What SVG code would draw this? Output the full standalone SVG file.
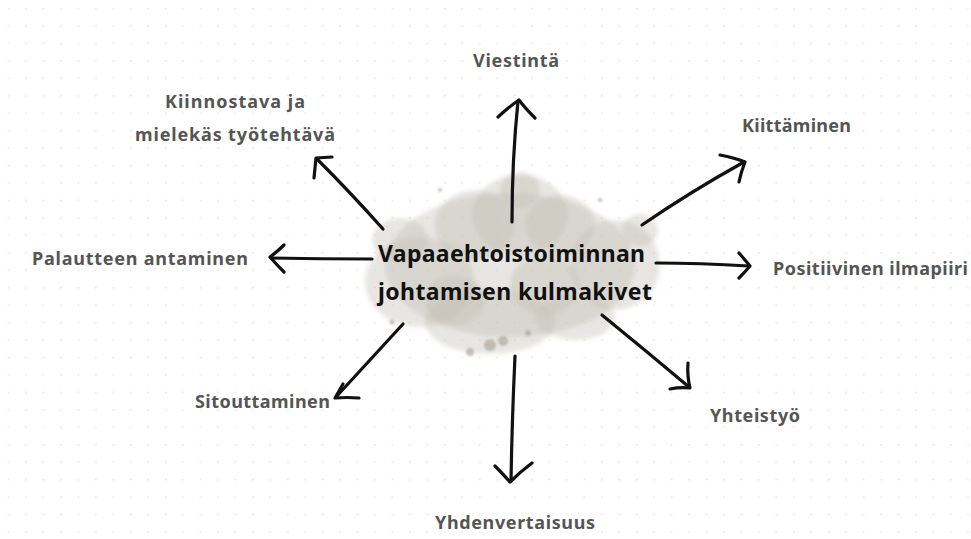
<svg xmlns="http://www.w3.org/2000/svg" width="971" height="539" viewBox="0 0 971 539">
<defs>
<pattern id="dots" x="0" y="0" width="17.45" height="17.45" patternUnits="userSpaceOnUse">
<circle cx="8.5" cy="8.5" r="1" fill="#e9e9e9"/>
</pattern>
<filter id="blur" x="-20%" y="-20%" width="140%" height="140%">
<feGaussianBlur stdDeviation="2"/>
</filter>
<filter id="blur2" x="-50%" y="-50%" width="200%" height="200%">
<feGaussianBlur stdDeviation="1"/>
</filter>
<style>
.lbl{font-family:"Noto Sans","Lato",sans-serif;font-weight:bold;font-size:18px;fill:#555555;}
.title{font-family:"Noto Sans","Lato",sans-serif;font-weight:bold;font-size:23px;fill:#111111;}
.arr{fill:none;stroke:#111111;stroke-width:3.2;stroke-linecap:round;stroke-linejoin:round;}
.blob{fill:#c2beb3;opacity:0.38;}
</style>
</defs>
<rect width="971" height="539" fill="#ffffff"/>
<rect width="971" height="539" fill="url(#dots)"/>

<g id="center">
<g filter="url(#blur)">
<ellipse class="blob" cx="510" cy="265" rx="125" ry="72"/>
<ellipse class="blob" cx="520" cy="215" rx="48" ry="40"/>
<ellipse class="blob" cx="475" cy="225" rx="40" ry="35"/>
<ellipse class="blob" cx="560" cy="225" rx="35" ry="30"/>
<ellipse class="blob" cx="420" cy="282" rx="55" ry="45"/>
<ellipse class="blob" cx="615" cy="265" rx="45" ry="45"/>
<ellipse class="blob" cx="490" cy="322" rx="65" ry="32"/>
<ellipse class="blob" cx="575" cy="318" rx="40" ry="22"/>
<ellipse class="blob" cx="400" cy="240" rx="28" ry="22"/>
<ellipse class="blob" cx="640" cy="230" rx="18" ry="16"/>
<ellipse class="blob" cx="455" cy="300" rx="30" ry="25"/>
<ellipse class="blob" cx="545" cy="285" rx="35" ry="30"/>
<ellipse class="blob" cx="520" cy="190" rx="20" ry="18"/>
</g>
<g filter="url(#blur2)" fill="#aea99e" opacity="0.7">
<circle cx="490" cy="345" r="6"/>
<circle cx="503" cy="341" r="5"/>
<circle cx="470" cy="352" r="4"/>
<circle cx="528" cy="333" r="3"/>
<circle cx="392" cy="322" r="2.5"/>
<circle cx="440" cy="190" r="2"/>
<circle cx="600" cy="200" r="2"/>
</g>
<text class="title" x="378" y="262" textLength="267">Vapaaehtoistoiminnan</text>
<text class="title" x="378" y="300" textLength="274">johtamisen kulmakivet</text>
</g>

<g id="viestinta"><text class="lbl" x="473" y="67" textLength="86">Viestintä</text></g>
<g id="kiinnostava"><text class="lbl" x="165" y="108" textLength="140">Kiinnostava ja</text><text class="lbl" x="135" y="141" textLength="200">mielekäs työtehtävä</text></g>
<g id="kiittaminen"><text class="lbl" x="742" y="132" textLength="109">Kiittäminen</text></g>
<g id="palaute"><text class="lbl" x="32" y="265" textLength="216">Palautteen antaminen</text></g>
<g id="positiivinen"><text class="lbl" x="773" y="275" textLength="195">Positiivinen ilmapiiri</text></g>
<g id="sitouttaminen"><text class="lbl" x="195" y="408" textLength="135">Sitouttaminen</text></g>
<g id="yhteistyo"><text class="lbl" x="710" y="422" textLength="90">Yhteistyö</text></g>
<g id="yhdenvertaisuus"><text class="lbl" x="435" y="529" textLength="160">Yhdenvertaisuus</text></g>

<g id="connectors">
<path class="arr" d="M512 222 Q512 160 518 101"/>
<path class="arr" d="M498 117 Q510 106 519 100 Q525 108 535 118"/>
<path class="arr" d="M383 229 Q350 192 317 159"/>
<path class="arr" d="M332 157 L316 158 Q315 168 314 178"/>
<path class="arr" d="M642 225 Q690 192 744 162"/>
<path class="arr" d="M720 155 Q735 158 745 162 Q741 172 739 182"/>
<path class="arr" d="M372 259 Q320 259 271 258"/>
<path class="arr" d="M284 245 Q277 252 270 257 Q277 265 284 272"/>
<path class="arr" d="M656 263 Q700 263 749 266"/>
<path class="arr" d="M739 253 Q745 260 750 266 Q745 272 739 278"/>
<path class="arr" d="M403 324 Q370 360 336 397"/>
<path class="arr" d="M343 384 Q339 391 335 398 Q347 397 359 398"/>
<path class="arr" d="M602 315 Q645 350 689 387"/>
<path class="arr" d="M688 363 Q687 376 690 388 Q680 387 670 389"/>
<path class="arr" d="M515 356 Q512 420 511 481"/>
<path class="arr" d="M495 466 Q503 474 510 482 Q520 472 532 463"/>
</g>
</svg>
